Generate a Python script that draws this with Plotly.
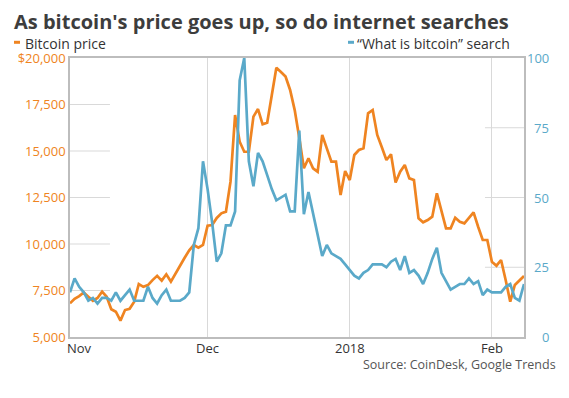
import pandas as pd
import plotly.graph_objects as go

# ---- data (daily, Nov 1 2017 - Feb 8 2018) ----
start_date = "2017-11-01"
bitcoin_price = [
    6810, 7050, 7200, 7390, 7170, 6950, 7100, 7440, 7160, 6490,
    6360, 5880, 6450, 6520, 6900, 7850, 7700, 7790, 8060, 8290,
    8030, 8370, 7980, 8420, 8870, 9260, 9660, 9946, 9800, 9946,
    10980, 11020, 11400, 11650, 11740, 13350, 16935, 15500, 14960, 14960,
    16845, 17257, 16435, 16520, 18000, 19478, 19250, 19000, 18283, 17200,
    15700, 14070, 14607, 14070, 13887, 15860, 15140, 14424, 14424, 12634,
    13924, 13440, 14785, 15053, 15144, 17026, 17203, 15860, 15200, 14516,
    14821, 13310, 13887, 14247, 13530, 13440, 11380, 11166, 11290, 11468,
    12725, 11736, 10843, 10843, 11414, 11199, 11110, 11400, 11700, 10930,
    10214, 10214, 9048, 8833, 9140, 8065, 6898, 7795, 8050, 8280,
]
search_interest = [
    16, 21, 18, 16, 13, 14, 12, 14, 14, 13,
    16, 13, 15, 17, 13, 13, 13, 18, 14, 12,
    15, 17, 13, 13, 13, 14, 16, 33, 39, 63,
    53, 41, 27, 30, 40, 40, 45, 92, 100, 63,
    54, 66, 63, 58, 53, 49, 50, 51, 45, 45,
    74, 44, 52, 44, 36, 29, 33, 30, 29, 28,
    26, 24, 22, 21, 23, 24, 26, 26, 26, 25,
    27, 28, 24, 29, 23, 24, 22, 19, 23, 28,
    32, 23, 20, 17, 18, 19, 19, 21, 19, 20,
    15, 17, 16, 16, 16, 18, 19, 14, 13, 19,
]
dates = pd.date_range(start_date, periods=len(bitcoin_price), freq="D")

price_tick_vals = [5000, 7500, 10000, 12500, 15000, 17500, 20000]
price_tick_text = ["5,000", "7,500", "10,000", "12,500", "15,000", "17,500", "$20,000"]
search_tick_vals = [0, 25, 50, 75, 100]
search_tick_text = ["0", "25", "50", "75", "100"]
x_tick_vals = ["2017-11-01", "2017-12-01", "2018-01-01", "2018-02-01"]
x_tick_text = ["Nov", "Dec", "2018", "Feb"]

ORANGE = "#ef8421"
BLUE = "#5aa9c9"
GRID = "#d9d9d9"
FRAME = "#bdbdbd"
FONT = "Open Sans"

L, T, W, H = 70, 58, 454, 279  # plot area in pixels


def px_x(x):
    return (x - L) / W


def px_y(y):
    return (T + H - y) / H


fig = go.Figure()
fig.add_trace(go.Scatter(x=dates, y=bitcoin_price, mode="lines",
                         line=dict(color=ORANGE, width=2.7), name="Bitcoin price",
                         yaxis="y"))
fig.add_trace(go.Scatter(x=dates, y=search_interest, mode="lines",
                         line=dict(color=BLUE, width=2.7), name="“What is bitcoin” search",
                         yaxis="y2"))

shapes = []
for v in price_tick_vals[1:-1]:
    shapes.append(dict(type="line", xref="paper", x0=0, x1=0.088, yref="y", y0=v, y1=v,
                       line=dict(color=GRID, width=1), layer="below"))
for v in search_tick_vals[1:-1]:
    shapes.append(dict(type="line", xref="paper", x0=0.914, x1=1, yref="y2", y0=v, y1=v,
                       line=dict(color=GRID, width=1), layer="below"))
shapes.append(dict(type="line", xref="paper", yref="paper",
                   x0=px_x(14), x1=px_x(20), y0=px_y(42.3), y1=px_y(42.3),
                   line=dict(color=ORANGE, width=3)))
shapes.append(dict(type="line", xref="paper", yref="paper",
                   x0=px_x(348), x1=px_x(354), y0=px_y(42.3), y1=px_y(42.3),
                   line=dict(color=BLUE, width=3)))

annotations = []
# right axis labels (right-aligned, as in the reference)
for v, t in zip(search_tick_vals, search_tick_text):
    annotations.append(dict(text=t, xref="paper", x=px_x(550), xanchor="right",
                            yref="y2", y=v, yanchor="middle", showarrow=False, borderpad=0,
                            font=dict(family=FONT, size=13, color=BLUE)))
# x axis labels (first one kept inside the frame)
for i, (v, t) in enumerate(zip(x_tick_vals, x_tick_text)):
    annotations.append(dict(text=t, xref="x", x=v, xanchor="left" if i == 0 else "center",
                            xshift=-4 if i == 0 else 0,
                            yref="paper", y=px_y(347.5), yanchor="middle", showarrow=False,
                            borderpad=0, font=dict(family=FONT, size=13, color="#333333")))
annotations.append(dict(text="<b>As bitcoin's price goes up, so do internet searches</b>",
                        xref="paper", x=px_x(13), xanchor="left",
                        yref="paper", y=px_y(21.5), yanchor="middle", showarrow=False,
                        borderpad=0, font=dict(family=FONT, size=20, color="#3d3d3d")))
annotations.append(dict(text="Bitcoin price", xref="paper", x=px_x(24), xanchor="left",
                        yref="paper", y=px_y(43.3), yanchor="middle", showarrow=False,
                        borderpad=0, font=dict(family=FONT, size=14, color="#333333")))
annotations.append(dict(text="“What is bitcoin” search", xref="paper", x=px_x(356),
                        xanchor="left", yref="paper", y=px_y(43.3), yanchor="middle",
                        showarrow=False, borderpad=0,
                        font=dict(family=FONT, size=14, color="#333333")))
annotations.append(dict(text="Source: CoinDesk, Google Trends", xref="paper", x=px_x(557),
                        xanchor="right", yref="paper", y=px_y(364), yanchor="middle",
                        showarrow=False, borderpad=0,
                        font=dict(family=FONT, size=12.5, color="#555555")))

fig.update_layout(
    width=569, height=398,
    margin=dict(l=L, r=569 - L - W, t=T, b=398 - T - H, autoexpand=False),
    paper_bgcolor="white", plot_bgcolor="white",
    showlegend=False,
    xaxis=dict(type="date", range=[dates[0], dates[-1]], automargin=False,
               tickvals=x_tick_vals, showticklabels=False,
               showgrid=True, gridcolor=GRID, gridwidth=1,
               showline=True, linecolor=FRAME, linewidth=1.5, mirror=True,
               ticks="", zeroline=False),
    yaxis=dict(range=[5000, 20000], tickvals=price_tick_vals, ticktext=price_tick_text,
               automargin=False,
               showgrid=False, showline=True, linecolor=FRAME, linewidth=1.5, mirror=True,
               ticks="", tickfont=dict(family=FONT, size=13, color=ORANGE), zeroline=False),
    yaxis2=dict(range=[0, 100], overlaying="y", side="right", showgrid=False,
                automargin=False,
                showticklabels=False, showline=False, zeroline=False, ticks=""),
    shapes=shapes,
    annotations=annotations,
)

fig.write_html("out.html", config={"displayModeBar": False},
               post_script="document.body.style.margin='0';document.body.style.padding='0';")
